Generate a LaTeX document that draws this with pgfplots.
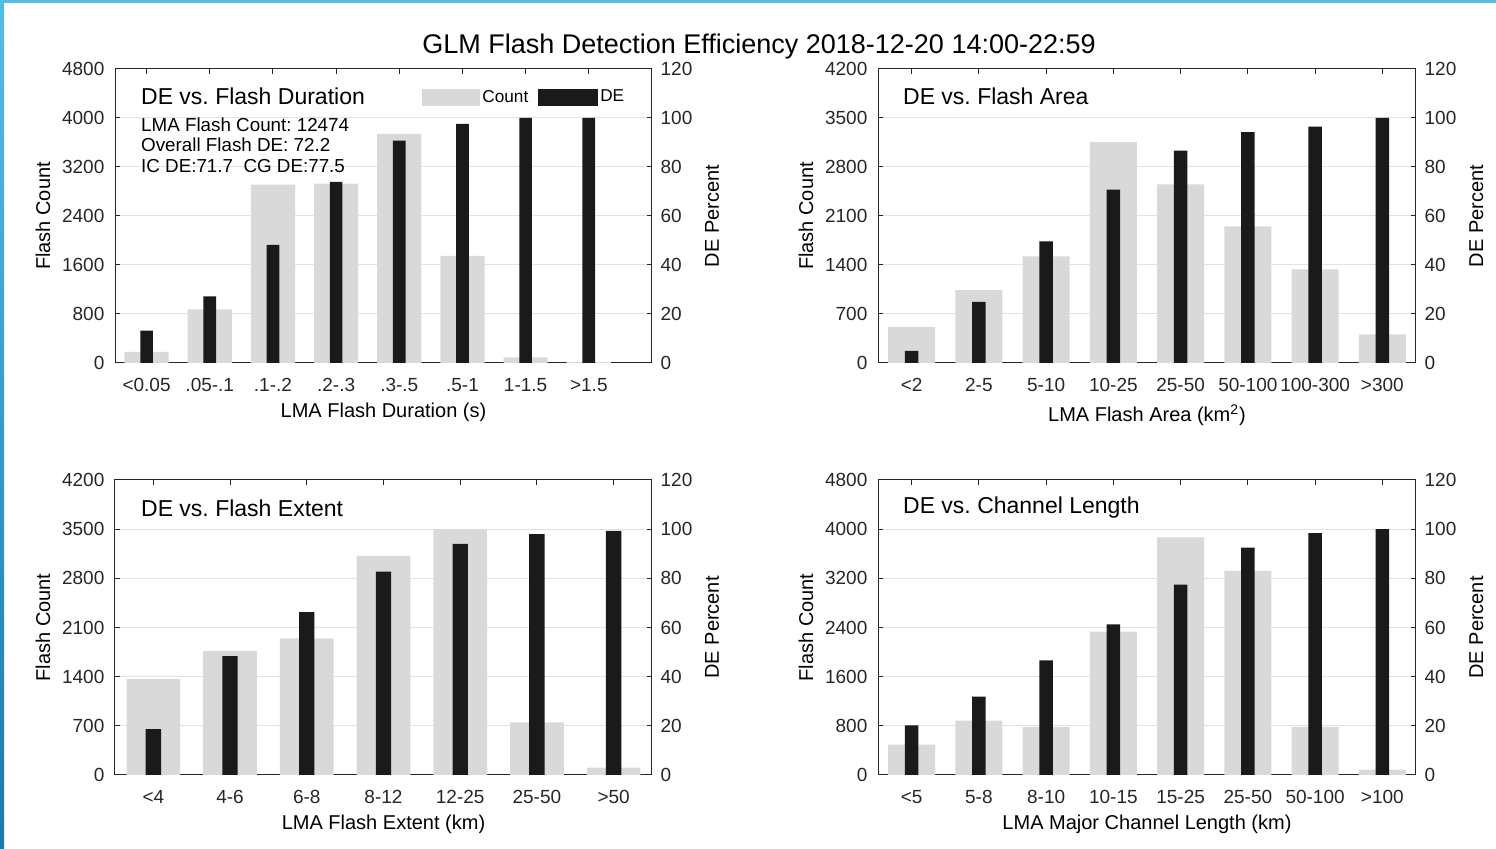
\documentclass[border=0pt]{standalone}
\usepackage{fontspec}
\setmainfont{Liberation Sans}
\usepackage{pgfplots}
\pgfplotsset{compat=1.18}
\definecolor{barg}{RGB}{217,217,217}
\definecolor{bark}{RGB}{26,26,26}
\definecolor{gridc}{RGB}{226,226,226}
\definecolor{axc}{RGB}{38,38,38}
\definecolor{bluetop}{RGB}{85,190,225}
\definecolor{bluebot}{RGB}{30,120,170}

\tikzset{
  sub/.style={anchor=west, font=\fontsize{11.5}{13}\selectfont, text=black, inner sep=0pt},
  ann/.style={anchor=west, font=\fontsize{9.4}{11}\selectfont, text=black, inner sep=0pt},
}
\pgfplotsset{
  base/.style={scale only axis, ybar, bar shift=0pt, ymin=0,
    tick align=inside, major tick length=2.7pt,
    axis line style={axc, line width=0.5pt},
    every tick/.style={axc, line width=0.5pt},
    ticklabel style={font=\fontsize{9.5}{11}\selectfont, text=axc},
    /pgf/number format/assume math mode=true,
    /pgf/number format/set thousands separator={},
    label style={font=\fontsize{10.5}{12}\selectfont, text=axc},
  },
  leftax/.style={base, ytick pos=left, xtick pos=both, ymajorgrids,
    grid style={gridc, line width=0.5pt},
    xticklabel style={yshift=-4pt},
    yticklabel style={xshift=-1.8pt},
    every axis y label/.style={at={(axis description cs:-0.134,0.5)}, rotate=90, anchor=center},
    every axis x label/.style={at={(axis description cs:0.5,-0.167)}, anchor=center},
    bar width=0.7,
  },
  rightax/.style={base, axis y line*=right, axis x line=none, xtick=\empty,
    yticklabel style={xshift=0.8pt},
    ymax=120, ytick={0,20,...,120},
    every axis y label/.style={at={(axis description cs:1.112,0.5)}, rotate=90, anchor=center},
    ylabel={DE Percent},
    bar width=0.2,
  },
}

\begin{document}
\frenchspacing
\begin{tikzpicture}
\path[use as bounding box] (0,0) rectangle (748pt,424.5pt);
\fill[bluetop] (0,423pt) rectangle (748pt,424.5pt);
\shade[bottom color=bluebot, top color=bluetop] (0,0) rectangle (2pt,424.5pt);

\node[font=\fontsize{13.5}{16}\selectfont, text=black] at (379.5pt,401pt) {GLM Flash Detection Efficiency 2018-12-20 14:00-22:59};

% ---------- Panel 1 ----------
\begin{axis}[leftax, at={(57.5pt,243pt)}, anchor=south west, width=268.5pt, height=147pt,
  xmin=0.5, xmax=9, ymax=4800, ytick={0,800,...,4800},
  xtick={1,...,8}, xticklabels={{<0.05},{.05-.1},{.1-.2},{.2-.3},{.3-.5},{.5-1},{1-1.5},{>1.5}},
  xlabel={LMA Flash Duration (s)}, ylabel={Flash Count}]
\addplot[fill=barg, draw=none] coordinates {(1,180) (2,875) (3,2913) (4,2930) (5,3739) (6,1750) (7,92) (8,15)};
\node[sub] at (rel axis cs:0.048,0.908) {DE vs. Flash Duration};
\node[ann] at (rel axis cs:0.048,0.810) {LMA Flash Count: 12474};
\node[ann] at (rel axis cs:0.048,0.742) {Overall Flash DE: 72.2};
\node[ann] at (rel axis cs:0.048,0.671) {IC DE:71.7\ \ CG DE:77.5};
\end{axis}
\begin{axis}[rightax, at={(57.5pt,243pt)}, anchor=south west, width=268.5pt, height=147pt,
  xmin=0.5, xmax=9,
  legend columns=2,
  legend style={draw=none, fill=none, inner sep=0pt, outer sep=0pt,
    at={(rel axis cs:0.5725,0.903)}, anchor=west,
    font=\fontsize{8.6}{10}\selectfont, nodes={inner sep=1pt},
    /tikz/every even column/.append style={column sep=4pt}}]
\addlegendimage{draw=none, legend image code/.code={\fill[barg] (0pt,-4.25pt) rectangle (29pt,4.25pt);}}
\addlegendentry{Count}
\addplot[fill=bark, draw=none, legend image code/.code={\fill[bark] (0pt,-4.25pt) rectangle (30pt,4.25pt);}]
  coordinates {(1,13.2) (2,27.2) (3,48.2) (4,73.9) (5,90.8) (6,97.6) (7,100) (8,100)};
\addlegendentry{DE}
\end{axis}

% ---------- Panel 2 ----------
\begin{axis}[leftax, at={(439pt,243pt)}, anchor=south west, width=269pt, height=147pt,
  xmin=0.5, xmax=8.5, ymax=4200, ytick={0,700,...,4200},
  xtick={1,...,8}, xticklabels={{<2},{2-5},{5-10},{10-25},{25-50},{50-100},{100-300},{>300}},
  xlabel={LMA Flash Area (km\textsuperscript{2})}, ylabel={Flash Count},
  every axis x label/.style={at={(axis description cs:0.5,-0.177)}, anchor=center}]
\addplot[fill=barg, draw=none] coordinates {(1,514) (2,1042) (3,1522) (4,3154) (5,2550) (6,1950) (7,1337) (8,409)};
\node[sub] at (rel axis cs:0.046,0.908) {DE vs. Flash Area};
\end{axis}
\begin{axis}[rightax, at={(439pt,243pt)}, anchor=south west, width=269pt, height=147pt,
  xmin=0.5, xmax=8.5]
\addplot[fill=bark, draw=none] coordinates {(1,4.9) (2,24.9) (3,49.6) (4,70.8) (5,86.7) (6,94.2) (7,96.5) (8,100)};
\end{axis}

% ---------- Panel 3 ----------
\begin{axis}[leftax, at={(57.5pt,37pt)}, anchor=south west, width=268.5pt, height=147.5pt,
  xmin=0.5, xmax=7.5, ymax=4200, ytick={0,700,...,4200},
  xtick={1,...,7}, xticklabels={{<4},{4-6},{6-8},{8-12},{12-25},{25-50},{>50}},
  xlabel={LMA Flash Extent (km)}, ylabel={Flash Count}]
\addplot[fill=barg, draw=none] coordinates {(1,1367) (2,1765) (3,1946) (4,3118) (5,3500) (6,750) (7,104)};
\node[sub] at (rel axis cs:0.048,0.905) {DE vs. Flash Extent};
\end{axis}
\begin{axis}[rightax, at={(57.5pt,37pt)}, anchor=south west, width=268.5pt, height=147.5pt,
  xmin=0.5, xmax=7.5]
\addplot[fill=bark, draw=none] coordinates {(1,18.7) (2,48.4) (3,66.2) (4,82.7) (5,94.0) (6,98.0) (7,99.3)};
\end{axis}

% ---------- Panel 4 ----------
\begin{axis}[leftax, at={(439pt,37pt)}, anchor=south west, width=269pt, height=147.5pt,
  xmin=0.5, xmax=8.5, ymax=4800, ytick={0,800,...,4800},
  xtick={1,...,8}, xticklabels={{<5},{5-8},{8-10},{10-15},{15-25},{25-50},{50-100},{>100}},
  xlabel={LMA Major Channel Length (km)}, ylabel={Flash Count}]
\addplot[fill=barg, draw=none] coordinates {(1,494) (2,884) (3,781) (4,2332) (5,3867) (6,3320) (7,781) (8,87)};
\node[sub] at (rel axis cs:0.046,0.905) {DE vs. Channel Length};
\end{axis}
\begin{axis}[rightax, at={(439pt,37pt)}, anchor=south west, width=269pt, height=147.5pt,
  xmin=0.5, xmax=8.5]
\addplot[fill=bark, draw=none] coordinates {(1,20.2) (2,31.9) (3,46.6) (4,61.3) (5,77.4) (6,92.5) (7,98.4) (8,100)};
\end{axis}
\end{tikzpicture}
\end{document}
